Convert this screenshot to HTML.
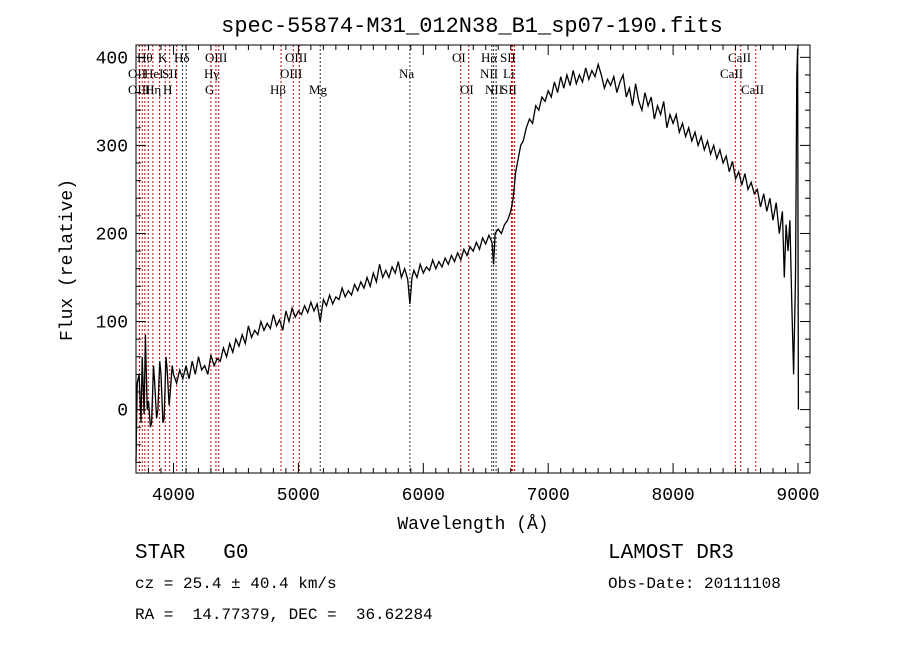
<!DOCTYPE html>
<html><head><meta charset="utf-8"><style>
body{margin:0;background:#fff;width:900px;height:649px;overflow:hidden}
svg{display:block}
.m{font-family:"Liberation Mono",monospace;fill:#000;white-space:pre}
.s{font-family:"Liberation Serif",serif;font-size:13px;fill:#000}
</style></head><body>
<svg id="c" width="900" height="649"></svg>
<script>
const wave=[3700,3710,3725,3740,3750,3765,3775,3790,3800,3815,3825,3840,3850,3865,3875,3890,3900,3915,3925,3940,3950,3965,3975,3990,4000,4025,4050,4075,4100,
4125,4150,4175,4200,4225,4250,4275,4300,4325,4350,4375,4400,4425,4450,4475,4500,4525,4550,4575,4600,4625,4650,4675,4700,4725,4750,4775,4800,4825,4850,4875,4900,4925,4950,4975,5000,
5025,5050,5075,5100,5125,5150,5175,5200,5225,5250,5275,5300,5325,5350,5375,5400,5425,5450,5475,5500,5525,5550,5575,5600,5625,5650,5675,5700,5725,5750,5775,5800,5825,5850,5875,5893,5910,5925,5950,5975,6000,6025,6050,6075,6100,6125,6150,6175,6200,6225,6250,6275,6300,6325,6350,6375,6400,6425,6450,6475,6500,6525,6550,6563,6575,6600,6625,6650,6675,6700,6720,6740,6760,6780,6800,6825,6850,6875,6900,6925,6950,6975,7000,7025,7050,7075,7100,7125,7150,7175,7200,7225,7250,7275,7300,7325,7350,7375,7400,7425,7450,7475,7500,7525,7550,7575,7600,7625,7650,7675,7700,7725,7750,7775,7800,7825,7850,7875,7900,7925,7950,7975,8000,8025,8050,8075,8100,8125,8150,8175,8200,8225,8250,8275,8300,8325,8350,8375,8400,8425,8450,8475,8500,8525,8550,8575,8600,8625,8650,8675,8700,8725,8750,8775,8800,8825,8850,8875,8890,8905,8920,8935,8950,8965,8980,8990,8997,9003];
const flux=[-60,30,40,-15,60,-5,85,0,10,-20,-15,50,30,-10,0,55,40,-15,-10,60,45,5,20,50,40,30,45,35,50,
35,55,40,60,45,50,40,62,50,58,55,70,60,75,65,80,72,85,75,95,82,90,85,100,90,98,92,108,95,102,90,112,100,115,105,112,
108,118,110,122,112,120,100,125,118,130,120,128,125,138,128,135,130,142,135,145,138,150,140,155,145,165,150,158,150,162,155,168,150,160,148,120,150,158,150,165,155,162,158,170,160,168,162,172,165,175,168,178,170,182,175,185,180,190,182,195,188,198,190,165,200,205,200,210,215,225,240,270,285,300,305,320,330,325,345,340,355,350,362,355,372,360,378,365,380,368,385,370,380,372,388,375,385,378,392,380,365,375,368,378,360,372,380,355,365,345,370,350,340,360,345,355,330,345,335,350,320,335,325,335,315,325,310,320,305,315,300,310,295,305,290,300,285,295,280,288,270,282,262,270,255,268,250,258,245,250,230,245,225,240,215,235,200,225,150,210,180,215,120,40,150,380,410,0];
const xTicks=[4000,5000,6000,7000,8000,9000];
const yTicks=[0,100,200,300,400];
const lineWaves=[3727,3750,3771,3798,3835,3889,3934,3970,4026,4072,4102,4300,4340,4363,4861,4959,5007,5175,5893,6300,6364,6548,6563,6583,6707,6716,6731,8498,8542,8662];
const lineColors=['r','r','r','r','r','r','r','r','r','k','k','r','r','r','r','r','r','k','k','r','r','k','k','k','r','r','r','r','r','r'];
const X0=3700,X1=9096,Y0=-72,Y1=414,L=136,R=810,T=45,B=473;
const sx=v=>L+(v-X0)/(X1-X0)*(R-L), sy=v=>B-(v-Y0)/(Y1-Y0)*(B-T);
const svg=document.getElementById('c'),NS='http://www.w3.org/2000/svg';
function mk(t,a,p){const e=document.createElementNS(NS,t);for(const k in a)e.setAttribute(k,a[k]);(p||svg).appendChild(e);return e;}
lineWaves.forEach((w,i)=>{const e=mk('line',{x1:sx(w),x2:sx(w),y1:T,y2:B,stroke:lineColors[i]=='r'?'#c00':'#333','stroke-width':1,'stroke-dasharray':'2,2'});

});
const pts=wave.map((w,i)=>sx(w).toFixed(1)+','+sy(Math.max(Y0,Math.min(Y1,flux[i]))).toFixed(1)).join(' ');
const pl=mk('polyline',{points:pts,fill:'none',stroke:'#000','stroke-width':1.3});


const fr=mk('rect',{x:L,y:T,width:R-L,height:B-T,fill:'none',stroke:'#000','stroke-width':1});


for(let v=X0;v<=X1;v+=100){if(v<=X0)continue;const x=sx(v),maj=v%1000==0,len=maj?10:5;
mk('line',{x1:x,x2:x,y1:B,y2:B-len,stroke:'#000'});mk('line',{x1:x,x2:x,y1:T,y2:T+len,stroke:'#000'});}
for(let v=-60;v<=Y1;v+=20){const y=sy(v),maj=v%100==0,len=maj?10:5;
mk('line',{x1:L,x2:L+len,y1:y,y2:y,stroke:'#000'});mk('line',{x1:R,x2:R-len,y1:y,y2:y,stroke:'#000'});}
xTicks.forEach(v=>{const t=mk('text',{x:sx(v),y:B+27,'text-anchor':'middle',class:'m','font-size':18});t.textContent=v;

});
yTicks.forEach(v=>{const t=mk('text',{x:L-8,y:sy(v)+6,'text-anchor':'end',class:'m','font-size':18});t.textContent=v;

});
const labs=[['Hθ',137,62],['K',158,62],['Hδ',174,62],['OIII',205,62],['OIII',285,62],['OI',452,62],['Hα',481,62],['SII',500,62],['CaII',728,62],
['OII',128,78],['HeI',144,78],['SII',162,78],['Hγ',204,78],['OIII',280,78],['Na',399,78],['NII',480,78],['Li',503,78],['CaII',720,78],
['OIII',128,94],['Hη',145,94],['H',163,94],['G',205,94],['Hβ',270,94],['Mg',309,94],['OI',460,94],['NII',485,94],['SII',501,94],['CaII',741,94]];
labs.forEach(l=>{const t=mk('text',{x:l[1],y:l[2],class:'s'});t.textContent=l[0];

});
function tx(s,x,y,sz,anchor,name,extra){const t=mk('text',Object.assign({x:x,y:y,class:'m','font-size':sz,'text-anchor':anchor||'start'},extra||{}));t.textContent=s;

return t;}
tx('spec-55874-M31_012N38_B1_sp07-190.fits',472,32,22,'middle','chart-title');
tx('Wavelength (Å)',473,529,18,'middle','x-axis-title');
tx('Flux (relative)',72,260,18,'middle','y-axis-title',{transform:'rotate(-90 72 260)'});
tx('STAR   G0',135,558,21,'start','object-class');
tx('cz = 25.4 ± 40.4 km/s',135,588,16,'start','redshift-info');
tx('RA =  14.77379, DEC =  36.62284',135,619,16,'start','coordinates');
tx('LAMOST DR3',608,558,21,'start','survey-name');
tx('Obs-Date: 20111108',608,588,16,'start','obs-date');
</script></body></html>
